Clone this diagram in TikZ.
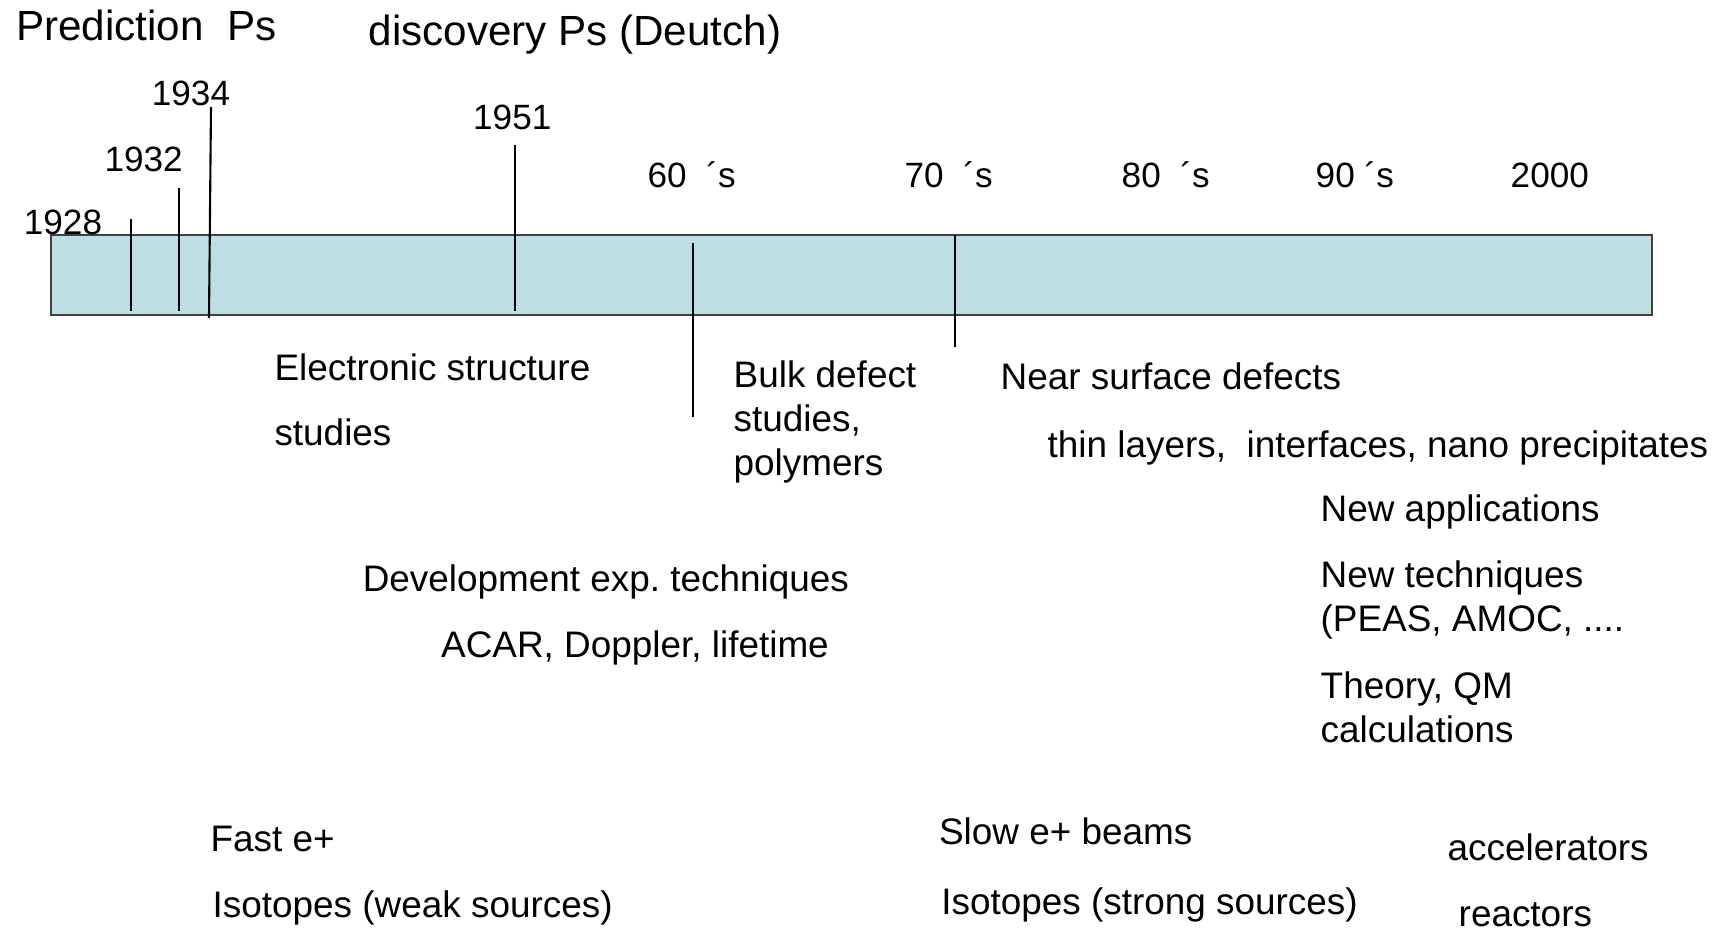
\documentclass[tikz,border=0pt]{standalone}
\usepackage{fontspec}
\setmainfont{Liberation Sans}
\definecolor{barblue}{HTML}{BDDFE3}
\definecolor{bargray}{HTML}{404040}
\tikzset{
	lbl/.style={anchor=base west,inner sep=0pt,font=\fontsize{10.5}{12}\selectfont},
	head/.style={lbl,font=\fontsize{12}{14}\selectfont},
	yr/.style={lbl,font=\fontsize{10}{12}\selectfont},
	tick/.style={black,line width=.6pt}
}
\newcommand{\acc}{\kern2.8pt´}

\begin{document}
\begin{tikzpicture}
			\useasboundingbox (0,0) rectangle (17.31,-9.30);
			% time bar
			\draw[fill=barblue,draw=bargray,line width=.7pt] (0.51,-2.35) rectangle (16.52,-3.15);
			\path
			(1.31,-2.19) coordinate (a1) (1.31,-3.11) coordinate (b1)
			(1.79,-1.88) coordinate (a2) (1.79,-3.11) coordinate (b2)
			(2.11,-1.07) coordinate (a3) (2.09,-3.18) coordinate (b3)
			(5.15,-1.45) coordinate (a4) (5.15,-3.11) coordinate (b4)
			(6.93,-2.43) coordinate (a5) (6.93,-4.17) coordinate (b5)
			(9.55,-2.35) coordinate (a6) (9.55,-3.47) coordinate (b6)
			;
			\foreach \i in {1,...,6} \draw[tick] (a\i) -- (b\i);
			% headings and years
			\node[head] (pred) at (0.155,-0.41) {Prediction\ \ Ps};
			\node[head] (disc) at (3.68,-0.46) {discovery Ps (Deutch)};
			\foreach \n/\x/\y/\t in {y28/0.232/2.35/1928,y32/1.038/1.72/1932,y34/1.512/1.06/1934,y51/4.725/1.30/1951,
				d60/6.47/1.88/60 \acc s,d70/9.04/1.88/70 \acc s,d80/11.21/1.88/80 \acc s,d90/13.15/1.88/90\acc s,d00/15.10/1.88/2000}
				\node[yr] (\n) at (\x,-\y) {\t};
			% topics
			\foreach \n/\x/\y/\t in {es1/2.738/3.81/Electronic structure,es2/2.738/4.46/studies,
				bd1/7.33/3.875/Bulk defect,bd2/7.33/4.317/{studies,},bd3/7.33/4.758/polymers,
				ns1/10.0/3.897/Near surface defects,ns2/10.47/4.571/{thin layers,\ \ interfaces, nano precipitates},
				na1/13.20/5.211/New applications,nt1/13.20/5.873/New techniques,nt2/13.20/6.315/{(PEAS, AMOC, ....},
				th1/13.20/6.988/{Theory, QM},th2/13.20/7.43/calculations,
				de1/3.621/5.917/Development exp.\ techniques,de2/4.405/6.58/{ACAR, Doppler, lifetime},
				fe1/2.098/8.512/Fast e+,fe2/2.12/9.174/Isotopes (weak sources),
				se1/9.384/8.446/Slow e+ beams,se2/9.406/9.141/Isotopes (strong sources),
				ac1/14.47/8.60/accelerators,ac2/14.58/9.27/reactors}
				\node[lbl] (\n) at (\x,-\y) {\t};
		\end{tikzpicture}
\end{document}
